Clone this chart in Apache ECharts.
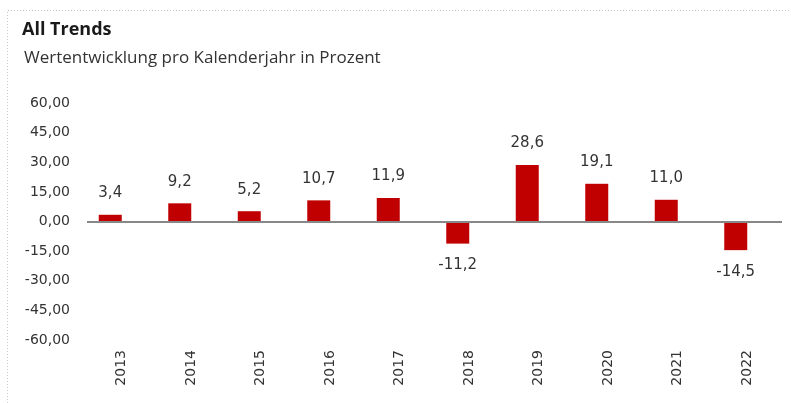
<!DOCTYPE html>
<html>
<head>
<meta charset="utf-8">
<title>All Trends</title>
<script src="https://cdn.jsdelivr.net/npm/echarts@6/dist/echarts.min.js"></script>
<style>
  html, body { margin: 0; padding: 0; background: #fff; }
  #chart { width: 791px; height: 403px; }
</style>
</head>
<body>
<div id="chart"></div>
<script>
// Jahre und Wertentwicklung in Prozent
const years = ['2013', '2014', '2015', '2016', '2017', '2018', '2019', '2020', '2021', '2022']
const values = [3.4, 9.2, 5.2, 10.7, 11.9, -11.2, 28.6, 19.1, 11.0, -14.5]
const yTicks = { min: -60, max: 60, step: 15 }

// Zahlen mit Dezimalkomma
const fmt = (v, d) => v.toFixed(d).replace('.', ',')

let myChart = echarts.init(document.getElementById('chart'))
let option = {
  animation: false,
  graphic: [
    // gepunkteter Rahmen oben/links
    {
      type: 'polyline',
      silent: true,
      shape: { points: [[7.5, 403], [7.5, 10.5], [791, 10.5]] },
      style: { stroke: '#c8c8c8', lineWidth: 1, lineDash: [1, 2], fill: null }
    },
    {
      type: 'text',
      left: 22,
      top: 21,
      style: {
        text: 'All Trends',
        font: 'bold 18px "Open Sans"',
        fill: '#1a1a1a'
      }
    },
    {
      type: 'text',
      left: 24,
      top: 50,
      style: {
        text: 'Wertentwicklung pro Kalenderjahr in Prozent',
        font: '17px "Open Sans"',
        fill: '#333'
      }
    }
  ],
  grid: {
    left: 87,
    right: 9,
    top: 103,
    bottom: 63
  },
  xAxis: {
    type: 'category',
    data: years,
    axisLine: { show: false },
    axisTick: { show: false },
    axisLabel: {
      rotate: 90,
      margin: 10,
      color: '#333',
      fontSize: 14,
      fontFamily: 'DejaVu Sans'
    }
  },
  yAxis: {
    type: 'value',
    min: yTicks.min,
    max: yTicks.max,
    interval: yTicks.step,
    axisLine: { show: false },
    axisTick: { show: false },
    splitLine: { show: false },
    axisLabel: {
      margin: 17,
      color: '#333',
      fontSize: 14,
      fontFamily: 'DejaVu Sans',
      formatter: v => fmt(v, 2)
    }
  },
  series: [
    {
      name: 'Wertentwicklung',
      type: 'bar',
      barWidth: 23,
      barGap: '0%',
      // negative Werte: Beschriftung unterhalb
      data: values.map(v => ({
        value: v,
        label: { position: v < 0 ? 'bottom' : 'top' }
      })),
      itemStyle: { color: '#c00000' },
      label: {
        show: true,
        distance: 14,
        color: '#333',
        fontSize: 15,
        fontFamily: 'DejaVu Sans',
        formatter: p => fmt(p.value, 1)
      },
      markLine: {
        silent: true,
        symbol: 'none',
        label: { show: false },
        lineStyle: { color: '#888', width: 2, type: 'solid' },
        data: [{ yAxis: 0 }]
      }
    },
    {
      // leere Reihe, Balken wie im Original nach links versetzt
      name: 'leer',
      type: 'bar',
      barWidth: 23,
      data: values.map(() => null)
    }
  ]
}
myChart.setOption(option)
</script>
</body>
</html>
